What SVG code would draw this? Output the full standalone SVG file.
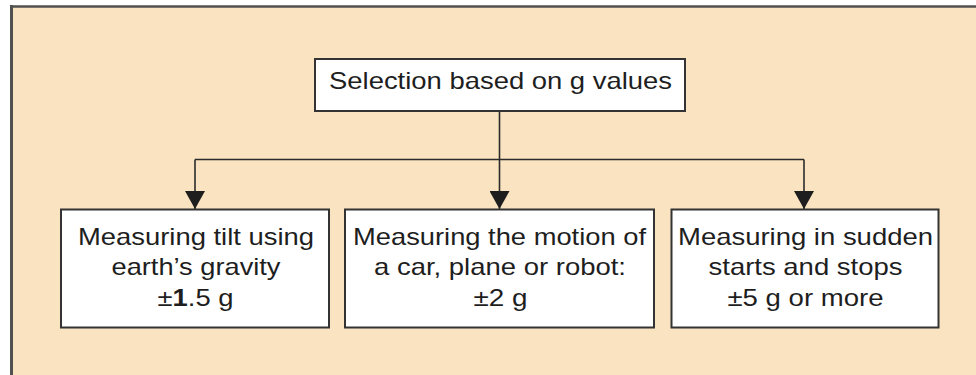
<svg xmlns="http://www.w3.org/2000/svg" width="976" height="375" viewBox="0 0 976 375">
  <defs>
    <marker id="arrow" markerUnits="userSpaceOnUse" markerWidth="20" markerHeight="20" refX="18" refY="10" orient="auto" viewBox="0 0 18 20">
      <path d="M0,0 L18,10 L0,20 Z" fill="#1e1e1e"/>
    </marker>
    <style>
      .box { fill: #ffffff; stroke: #333333; stroke-width: 2; }
      .lbl { font-family: "Liberation Sans", Arial, Helvetica, sans-serif; font-size: 24px; fill: #1e1e1e; text-anchor: middle; }
      .conn { fill: none; stroke: #2b2b2b; stroke-width: 1.6; }
      .frame { stroke: #505050; fill: none; }
    </style>
  </defs>

  <rect x="0" y="0" width="976" height="375" fill="#ffffff"/>
  <rect x="12" y="7" width="964" height="368" fill="#F9E3C0"/>
  <line class="frame" x1="10" y1="6.5" x2="976" y2="6.5" stroke-width="2.5"/>
  <line class="frame" x1="11.5" y1="5" x2="11.5" y2="375" stroke-width="3"/>

  <g id="connectors">
    <path class="conn" d="M499.5,111 V159.5"/>
    <path class="conn" d="M195,159.5 H804"/>
    <path class="conn" d="M195,159.5 V209" marker-end="url(#arrow)"/>
    <path class="conn" d="M499.5,159.5 V209" marker-end="url(#arrow)"/>
    <path class="conn" d="M804,159.5 V209" marker-end="url(#arrow)"/>
  </g>

  <g id="root">
    <rect class="box" x="315" y="59" width="370" height="52"/>
    <text class="lbl" x="500.5" y="89" textLength="343" lengthAdjust="spacingAndGlyphs">Selection based on g values</text>
  </g>

  <g id="tilt">
    <rect class="box" x="61" y="209.5" width="268" height="118"/>
    <text class="lbl" x="196" y="244.5" textLength="236" lengthAdjust="spacingAndGlyphs">Measuring tilt using</text>
    <text class="lbl" x="196" y="275" textLength="169" lengthAdjust="spacingAndGlyphs">earth’s gravity</text>
    <text class="lbl" x="195.5" y="306" textLength="76" lengthAdjust="spacingAndGlyphs">±<tspan font-weight="bold">1</tspan>.5 g</text>
  </g>

  <g id="motion">
    <rect class="box" x="345" y="209.5" width="309" height="118"/>
    <text class="lbl" x="499.5" y="244.5" textLength="293" lengthAdjust="spacingAndGlyphs">Measuring the motion of</text>
    <text class="lbl" x="500" y="275" textLength="252" lengthAdjust="spacingAndGlyphs">a car, plane or robot:</text>
    <text class="lbl" x="500.5" y="306" textLength="54" lengthAdjust="spacingAndGlyphs">±2 g</text>
  </g>

  <g id="sudden">
    <rect class="box" x="671.5" y="209.5" width="267" height="118"/>
    <text class="lbl" x="805.5" y="244.5" textLength="255" lengthAdjust="spacingAndGlyphs">Measuring in sudden</text>
    <text class="lbl" x="805.5" y="275" textLength="194" lengthAdjust="spacingAndGlyphs">starts and stops</text>
    <text class="lbl" x="805.5" y="306" textLength="156" lengthAdjust="spacingAndGlyphs">±5 g or more</text>
  </g>
</svg>
